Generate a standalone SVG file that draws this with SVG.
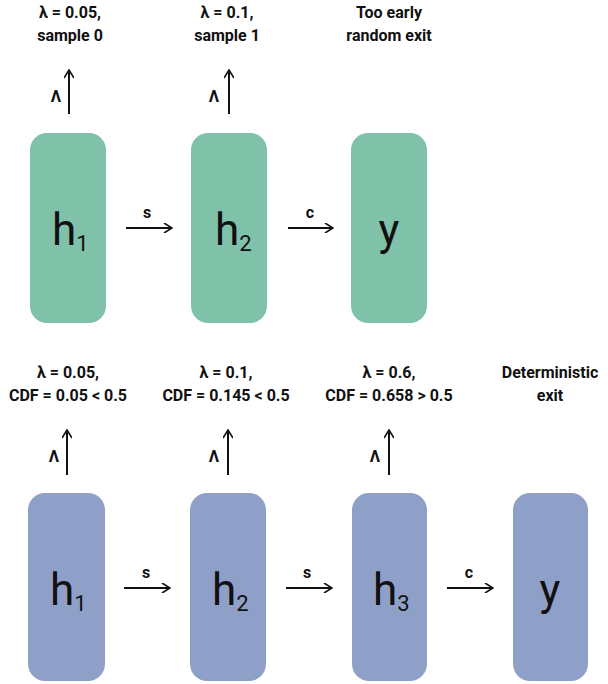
<svg xmlns="http://www.w3.org/2000/svg" width="608" height="684" viewBox="0 0 608 684">
<style>
.g{fill:#80C1A9}.b{fill:#8FA0C8}
.lbl{font-family:Roboto,"Liberation Sans",sans-serif;font-weight:bold;font-size:16px;text-anchor:middle;fill:#111}
.big{font-family:Roboto,"Liberation Sans",sans-serif;font-size:44px;fill:#111}
.sub{font-size:22px}
.ln{stroke:#111;stroke-width:2;fill:none}
</style>
<defs><marker id="a" viewBox="0 0 10 10" refX="9" refY="5" markerWidth="10" markerHeight="10" markerUnits="userSpaceOnUse" orient="auto"><path d="M1,0 L9,5 L1,10" fill="none" stroke="#111" stroke-width="1.6"/></marker></defs>
<g id="t1"><rect class="g" x="30" y="133" width="76" height="190" rx="17"/><text class="big" x="52" y="245">h<tspan class="sub" dy="6">1</tspan></text></g>
<g id="t2"><rect class="g" x="191" y="133" width="76" height="190" rx="17"/><text class="big" x="215" y="245">h<tspan class="sub" dy="6">2</tspan></text></g>
<g id="t3"><rect class="g" x="351" y="133" width="76" height="190" rx="17"/><text class="big" x="389" y="245" text-anchor="middle">y</text></g>
<g id="b1"><rect class="b" x="28" y="493" width="77" height="188" rx="17"/><text class="big" x="50" y="605">h<tspan class="sub" dy="6">1</tspan></text></g>
<g id="b2"><rect class="b" x="190" y="493" width="76" height="188" rx="17"/><text class="big" x="212" y="605">h<tspan class="sub" dy="6">2</tspan></text></g>
<g id="b3"><rect class="b" x="352" y="493" width="75" height="188" rx="17"/><text class="big" x="373" y="605">h<tspan class="sub" dy="6">3</tspan></text></g>
<g id="b4"><rect class="b" x="513" y="493" width="75" height="188" rx="17"/><text class="big" x="550" y="605" text-anchor="middle">y</text></g>
<g id="connectors">
<path class="ln" d="M69,114V70" marker-end="url(#a)"/>
<path class="ln" d="M229,114V70" marker-end="url(#a)"/>
<path class="ln" d="M126,228H172" marker-end="url(#a)"/>
<path class="ln" d="M288,228H333" marker-end="url(#a)"/>
<path class="ln" d="M67,475V430" marker-end="url(#a)"/>
<path class="ln" d="M228,475V430" marker-end="url(#a)"/>
<path class="ln" d="M389,475V430" marker-end="url(#a)"/>
<path class="ln" d="M124,588H170" marker-end="url(#a)"/>
<path class="ln" d="M286,588H332" marker-end="url(#a)"/>
<path class="ln" d="M447,588H493" marker-end="url(#a)"/>
<text class="lbl" x="56" y="102">Λ</text>
<text class="lbl" x="214" y="102">Λ</text>
<text class="lbl" x="54" y="462">Λ</text>
<text class="lbl" x="214" y="462">Λ</text>
<text class="lbl" x="375" y="462">Λ</text>
<text class="lbl" x="147" y="218">s</text>
<text class="lbl" x="310" y="218">c</text>
<text class="lbl" x="146" y="578">s</text>
<text class="lbl" x="307" y="578">s</text>
<text class="lbl" x="469" y="578">c</text>
</g>
<g id="labels">
<text class="lbl" x="70" y="18">λ = 0.05,</text><text class="lbl" x="70" y="41">sample 0</text>
<text class="lbl" x="227" y="18">λ = 0.1,</text><text class="lbl" x="227" y="41">sample 1</text>
<text class="lbl" x="389" y="18">Too early</text><text class="lbl" x="389" y="41">random exit</text>
<text class="lbl" x="68" y="378">λ = 0.05,</text><text class="lbl" x="68" y="401">CDF = 0.05 &lt; 0.5</text>
<text class="lbl" x="226" y="378">λ = 0.1,</text><text class="lbl" x="226" y="401">CDF = 0.145 &lt; 0.5</text>
<text class="lbl" x="389" y="378">λ = 0.6,</text><text class="lbl" x="389" y="401">CDF = 0.658 &gt; 0.5</text>
<text class="lbl" x="550" y="378">Deterministic</text><text class="lbl" x="550" y="401">exit</text>
</g>
</svg>
